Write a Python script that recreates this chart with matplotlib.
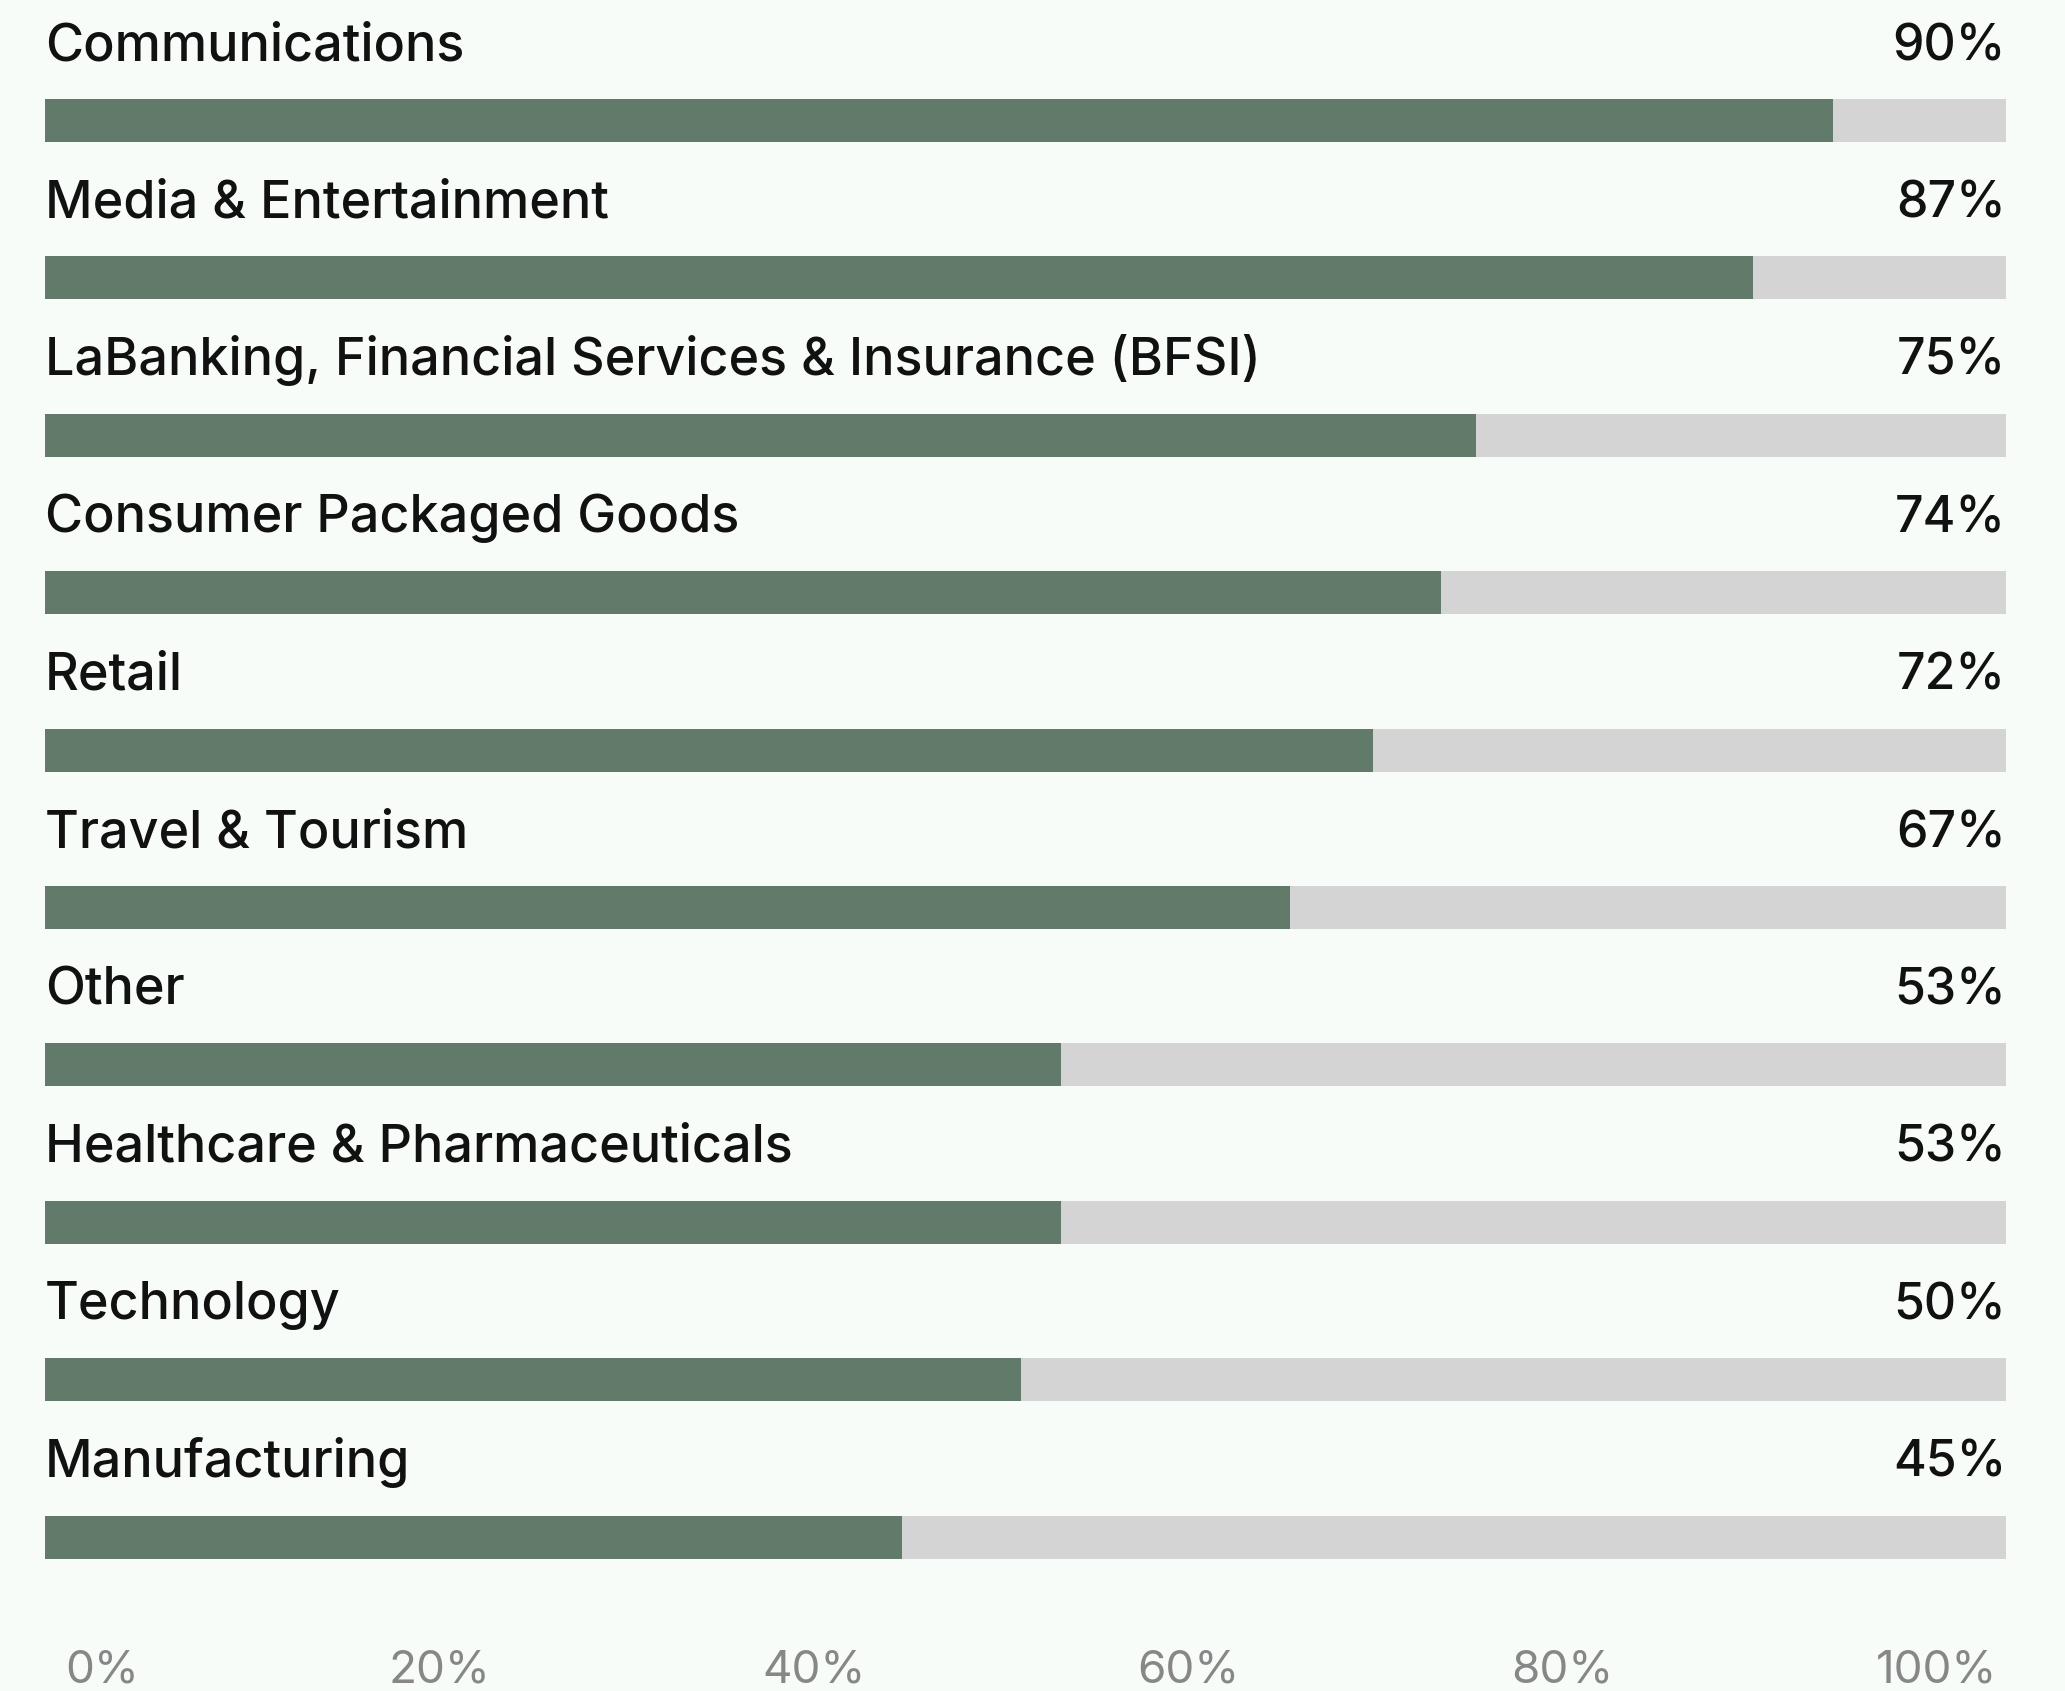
import numpy as np
import matplotlib.pyplot as plt

# Industry rows, top to bottom
categories = [
    "Communications",
    "Media & Entertainment",
    "LaBanking, Financial Services & Insurance (BFSI)",
    "Consumer Packaged Goods",
    "Retail",
    "Travel & Tourism",
    "Other",
    "Healthcare & Pharmaceuticals",
    "Technology",
    "Manufacturing",
]
# Printed percentages
value_labels = ["90%", "87%", "75%", "74%", "72%", "67%", "53%", "53%", "50%", "45%"]
# Filled length of each bar (share of the track)
bar_fill = [91.2, 87.1, 73.0, 71.2, 67.7, 63.5, 51.8, 51.8, 49.8, 43.7]
track_max = 100
tick_values = [0, 20, 40, 60, 80, 100]
tick_labels = ["0%", "20%", "40%", "60%", "80%", "100%"]

BG = "#f8fcf9"
GREEN = "#627a6a"
TRACK = "#d4d4d4"
TEXT = "#111111"
TICK = "#878787"

plt.rcParams["font.family"] = ["Inter", "DejaVu Sans"]

W, H = 2065, 1691
fig = plt.figure(figsize=(W / 100, H / 100), dpi=100, facecolor=BG)

left_px, right_px, bottom_px = 44.8, 2006, 1640
ax = fig.add_axes([left_px / W, 1 - bottom_px / H, (right_px - left_px) / W, bottom_px / H])
ax.set_facecolor(BG)

rows = np.arange(len(categories))
bar_h = 0.273
ax.barh(rows, [track_max] * len(rows), height=bar_h, color=TRACK, zorder=1)
ax.barh(rows, bar_fill, height=bar_h, color=GREEN, zorder=2)

for r, name, lab in zip(rows, categories, value_labels):
    ax.text(0, r - 0.384, name, ha="left", va="baseline", fontsize=37.5,
            fontweight=500, color=TEXT)
    ax.text(track_max, r - 0.384, lab, ha="right", va="baseline", fontsize=36,
            fontweight=500, color=TEXT)

ax.set_xlim(0, track_max)
ax.set_ylim(9.654, -0.7656)
ax.axis("off")

# Percentage scale along the bottom
ax2 = ax.twiny()
ax2.set_xlim(-1.08, 103.7)
ax2.xaxis.set_ticks_position("bottom")
ax2.set_xticks(tick_values)
ax2.set_xticklabels(tick_labels)
ax2.tick_params(axis="x", length=0, pad=7, labelsize=33, labelcolor=TICK)
ax2.get_xticklabels()[0].set_horizontalalignment("left")
ax2.set_yticks([])
for s in ax2.spines.values():
    s.set_visible(False)
ax2.patch.set_visible(False)

fig.savefig("out.png", dpi=100, facecolor=BG)
